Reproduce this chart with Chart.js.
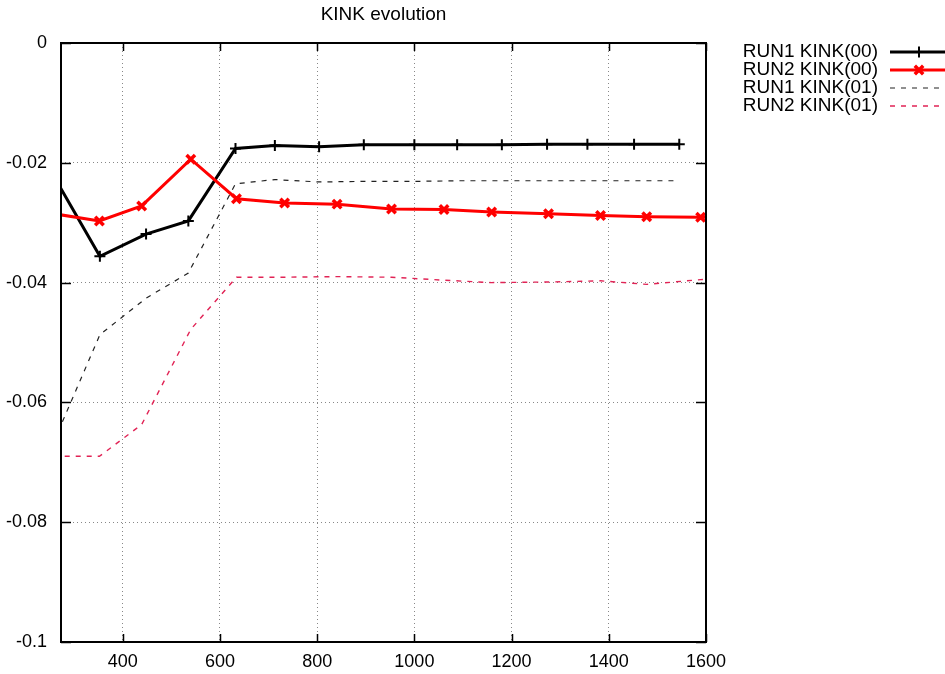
<!DOCTYPE html>
<html>
<head>
<meta charset="utf-8">
<title>KINK evolution</title>
<script src="https://cdn.jsdelivr.net/npm/chart.js@4.4.1/dist/chart.umd.min.js"></script>
<style>
  html, body { margin: 0; padding: 0; background: #fff; }
  #chart { display: block; }
</style>
</head>
<body>
<canvas id="chart" width="945" height="674"></canvas>
<script>
const chartTitle = 'KINK evolution';
const seriesNames = ['RUN1 KINK(00)', 'RUN2 KINK(00)', 'RUN1 KINK(01)', 'RUN2 KINK(01)'];

// sample positions of each run; the first (and last of run2) lie outside the axis range and get clipped
const run1X = [258, 353, 448, 535, 632, 713, 804, 896, 1000, 1088, 1180, 1273, 1356, 1452, 1545];
const run2X = [258, 352, 439, 540, 634, 733, 841, 953, 1061, 1159, 1276, 1383, 1478, 1589, 1690];

const run1Kink00 = [-0.0222, -0.0356, -0.0319, -0.0297, -0.0176, -0.0171, -0.0173, -0.0170, -0.0170,
                    -0.0170, -0.0170, -0.0169, -0.0169, -0.0169, -0.0169];
const run2Kink00 = [-0.0285, -0.0297, -0.0272, -0.0194, -0.0260, -0.0267, -0.0269, -0.0277, -0.0278,
                    -0.0282, -0.0285, -0.0288, -0.0290, -0.0291, -0.0292];
const run1Kink01 = [-0.0666, -0.0487, -0.0426, -0.0384, -0.0235, -0.0228, -0.0232, -0.0231, -0.0231,
                    -0.0230, -0.0230, -0.0230, -0.0230, -0.0230, -0.0230];
const run2Kink01 = [-0.0690, -0.0690, -0.0637, -0.0478, -0.0391, -0.0391, -0.0390, -0.0391, -0.0396,
                    -0.0400, -0.0399, -0.0397, -0.0403, -0.0395, -0.0393];

const xTicks = [400, 600, 800, 1000, 1200, 1400, 1600];
const yTicks = [0, -0.02, -0.04, -0.06, -0.08, -0.1];

const pts = (xs, ys) => xs.map((x, i) => ({ x: x, y: ys[i] }));

const styles = [
  { color: '#000000', width: 3, dash: [], marker: 'cross', radius: 5.5, markerWidth: 2 },
  { color: '#ff0000', width: 3, dash: [], marker: 'crossRot', radius: 6, markerWidth: 3.5 },
  { color: '#222222', width: 1.2, dash: [5, 6], marker: false, radius: 0, markerWidth: 0 },
  { color: 'rgb(225,35,85)', width: 1.4, dash: [5, 6], marker: false, radius: 0, markerWidth: 0 }
];

const seriesData = [pts(run1X, run1Kink00), pts(run2X, run2Kink00), pts(run1X, run1Kink01), pts(run2X, run2Kink01)];

const datasets = seriesData.map((d, i) => ({
  label: seriesNames[i],
  data: d,
  borderColor: styles[i].color,
  backgroundColor: styles[i].color,
  borderWidth: styles[i].width,
  borderDash: styles[i].dash,
  pointStyle: styles[i].marker,
  pointRadius: styles[i].radius,
  pointBorderWidth: styles[i].markerWidth,
  pointBorderColor: styles[i].color,
  tension: 0,
  order: 4 - i
}));

// box, inward tics, title and the legend on the right
const gnuplotLook = {
  id: 'gnuplotLook',
  afterDatasetsDraw(chart) {
    const ctx = chart.ctx;
    const a = chart.chartArea;
    const xs = chart.scales.x, ys = chart.scales.y;
    ctx.save();
    ctx.strokeStyle = '#000';
    ctx.lineWidth = 2;
    ctx.setLineDash([]);
    ctx.strokeRect(a.left, a.top, a.right - a.left, a.bottom - a.top);
    ctx.lineWidth = 1.5;
    ctx.beginPath();
    xTicks.forEach(v => {
      const px = Math.round(xs.getPixelForValue(v)) + 0.5;
      ctx.moveTo(px, a.bottom); ctx.lineTo(px, a.bottom - 8);
      ctx.moveTo(px, a.top); ctx.lineTo(px, a.top + 8);
    });
    yTicks.forEach(v => {
      const py = Math.round(ys.getPixelForValue(v)) + 0.5;
      ctx.moveTo(a.left, py); ctx.lineTo(a.left + 10, py);
      ctx.moveTo(a.right, py); ctx.lineTo(a.right - 10, py);
    });
    ctx.stroke();
    ctx.restore();
  },
  afterDraw(chart) {
    const ctx = chart.ctx;
    const a = chart.chartArea;
    ctx.save();
    ctx.fillStyle = '#000';
    ctx.font = '19px "Liberation Sans", Arial, sans-serif';
    ctx.textAlign = 'center';
    ctx.textBaseline = 'middle';
    ctx.fillText(chartTitle, (a.left + a.right) / 2, 15);

    seriesNames.forEach((name, i) => {
      const y = 52 + i * 18;
      const s = styles[i];
      ctx.fillStyle = '#000';
      ctx.textAlign = 'right';
      ctx.fillText(name, 878, y);
      ctx.strokeStyle = s.color;
      ctx.lineWidth = s.width;
      ctx.setLineDash(s.dash);
      ctx.beginPath();
      ctx.moveTo(890, y); ctx.lineTo(950, y);
      ctx.stroke();
      ctx.setLineDash([]);
      if (s.marker) {
        ctx.lineWidth = s.markerWidth;
        ctx.beginPath();
        const r = s.radius, cx = 919;
        if (s.marker === 'cross') {
          ctx.moveTo(cx, y - r); ctx.lineTo(cx, y + r);
          ctx.moveTo(cx - r, y); ctx.lineTo(cx + r, y);
        } else {
          const d = r * 0.7;
          ctx.moveTo(cx - d, y - d); ctx.lineTo(cx + d, y + d);
          ctx.moveTo(cx - d, y + d); ctx.lineTo(cx + d, y - d);
        }
        ctx.stroke();
      }
    });
    ctx.restore();
  }
};

Chart.defaults.color = '#000';
Chart.defaults.font.family = '"Liberation Sans", Arial, sans-serif';

new Chart(document.getElementById('chart'), {
  type: 'line',
  data: { datasets: datasets },
  options: {
    responsive: false,
    devicePixelRatio: 1,
    animation: false,
    layout: { padding: { left: 0, right: 239, top: 43, bottom: 0 } },
    plugins: {
      legend: { display: false },
      title: { display: false },
      tooltip: { enabled: false }
    },
    scales: {
      x: {
        type: 'linear',
        min: 273,
        max: 1600,
        afterBuildTicks: s => { s.ticks = xTicks.map(v => ({ value: v })); },
        afterFit: s => { s.height = 32; },
        ticks: { font: { size: 18 }, padding: 9, maxRotation: 0, callback: v => String(v) },
        grid: { color: '#888', lineWidth: 1, drawTicks: false },
        border: { display: false, dash: [1, 3] }
      },
      y: {
        type: 'linear',
        min: -0.1,
        max: 0,
        afterBuildTicks: s => { s.ticks = yTicks.map(v => ({ value: v })); },
        afterFit: s => { s.width = 61; },
        ticks: {
          font: { size: 18 },
          padding: 14,
          callback: v => (v === 0 ? '0' : String(+v.toFixed(2)))
        },
        grid: { color: '#888', lineWidth: 1, drawTicks: false },
        border: { display: false, dash: [1, 3] }
      }
    }
  },
  plugins: [gnuplotLook]
});
</script>
</body>
</html>
